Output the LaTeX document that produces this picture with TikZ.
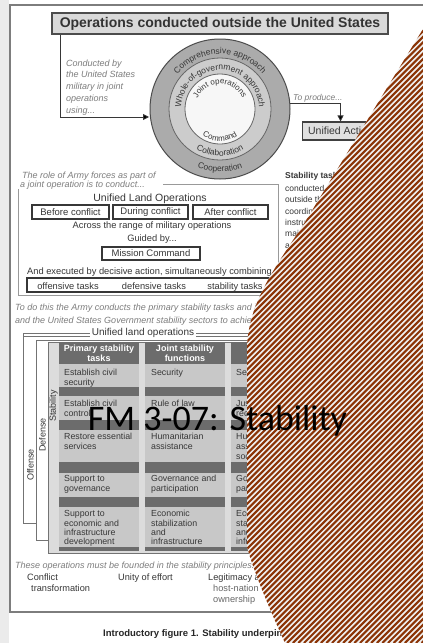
\documentclass[tikz,border=0pt]{standalone}
\usepackage{fontspec}
\setmainfont{Liberation Sans}
\newfontfamily\carlito{Carlito}
\usetikzlibrary{arrows.meta,decorations.text}
\definecolor{hbrown}{RGB}{139,52,6}
\definecolor{hwhite}{RGB}{240,240,240}
\definecolor{itgray}{RGB}{125,125,125}
\definecolor{txt}{RGB}{55,55,55}
\definecolor{darkbar}{RGB}{108,108,108}
\definecolor{cellbg}{RGB}{200,200,200}
\definecolor{panelbg}{RGB}{220,220,220}
\definecolor{framegray}{RGB}{125,125,125}
\begin{document}
\begin{tikzpicture}[x=1pt,y=1pt,
  itl/.style={inner sep=0pt, anchor=base west, text=itgray, font=\fontsize{9}{11}\selectfont\itshape},
  lbl/.style={inner sep=0pt, anchor=base west, text=txt, font=\fontsize{9}{11}\selectfont},
  cen/.style={inner sep=0pt, anchor=base, text=txt, font=\fontsize{9.3}{11}\selectfont},
  cbox/.style={draw=txt, line width=1.1pt, fill=white, minimum height=14pt, inner sep=0pt, text=txt, font=\fontsize{9.5}{11}\selectfont},
  celltxt/.style={inner sep=0pt, anchor=base west, text=txt, font=\fontsize{8.8}{10}\selectfont},
  hdr/.style={fill=darkbar, text=white, font=\fontsize{9}{10}\selectfont\bfseries, align=center, inner sep=0pt, minimum width=80pt, minimum height=22pt},
  conn/.style={draw=txt, line width=0.8pt, -{Triangle[length=6pt,width=6pt]}},
  vlab/.style={rotate=90, inner sep=0pt, text=txt, font=\fontsize{9}{10}\selectfont},
  bot/.style={inner sep=0pt, anchor=base west, text=txt, font=\fontsize{9.2}{11}\selectfont}]
\useasboundingbox (0,0) rectangle (423,-643);
\fill[white] (0,0) rectangle (423,-643);
\fill[black!8] (0,0) rectangle (8.5,-643);
% frame
\draw[framegray, line width=1.5pt] (10,-5) rectangle (440,-612);

% title
\node[draw=black!70, line width=1.2pt, fill=black!15, minimum width=336pt, minimum height=21pt, inner sep=0pt, font=\fontsize{14}{16}\selectfont\bfseries, text=black!80] (title) at (220,-23.5) {Operations conducted outside the United States};

% left text
\node[itl] (c1) at (66,-66) {Conducted by};
\node[itl] (c2) at (66,-77.5) {the United States};
\node[itl] (c3) at (66,-89.5) {military in joint};
\node[itl] (c4) at (66,-101.5) {operations};
\node[itl] (c5) at (66,-113) {using...};

% circles
\coordinate (C) at (220,-109);
\node[circle, draw=black!70, line width=1pt, fill=black!33, minimum size=140pt, inner sep=0pt] (ringA) at (C) {};
\node[circle, draw=black!60, line width=0.8pt, fill=black!20, minimum size=102pt, inner sep=0pt] (ringB) at (C) {};
\node[circle, draw=black!60, line width=0.8pt, fill=black!3, minimum size=70pt, inner sep=0pt] (ringC) at (C) {};
\path[decorate, decoration={text along path, text align=center, text color=txt, text={|\fontsize{8.5}{10}\selectfont|Comprehensive approach}}] (C) ++(190:55pt) arc[start angle=190, end angle=-10, radius=55pt];
\path[decorate, decoration={text along path, text align=center, text color=txt, text={|\fontsize{8.5}{10}\selectfont|Cooperation}}] (C) ++(-170:63pt) arc[start angle=-170, end angle=-10, radius=63pt];
\path[decorate, decoration={text along path, text align=center, text color=txt, text={|\fontsize{8.5}{10}\selectfont|Whole-of-government approach}}] (C) ++(200:39pt) arc[start angle=200, end angle=-20, radius=39pt];
\path[decorate, decoration={text along path, text align=center, text color=txt, text={|\fontsize{8.5}{10}\selectfont|Collaboration}}] (C) ++(-170:47pt) arc[start angle=-170, end angle=-10, radius=47pt];
\path[decorate, decoration={text along path, text align=center, text color=txt, text={|\fontsize{8}{10}\selectfont|Joint operations}}] (C) ++(200:25pt) arc[start angle=200, end angle=-20, radius=25pt];
\path[decorate, decoration={text along path, text align=center, text color=txt, text={|\fontsize{8}{10}\selectfont|Command}}] (C) ++(-170:32pt) arc[start angle=-170, end angle=-10, radius=32pt];

\coordinate (arrin) at (149,-117);
\draw[conn] ([xshift=9pt]title.south west) |- (arrin);

% to produce
\node[itl, font=\fontsize{8.5}{10}\selectfont\itshape] (prod) at (293,-100) {To produce...};
\coordinate (prodstart) at (289.7,-103);
\node[draw=black!75, line width=1.1pt, fill=black!12, minimum width=76pt, minimum height=18pt, inner sep=0pt, anchor=west, text=txt, font=\fontsize{10.5}{12}\selectfont] (ua) at (302,-131) {Unified Action};
\draw[conn] (prodstart) -| (ua.north);

% section 2
\node[itl] (r1) at (22,-178) {The role of Army forces as part of};
\node[itl] (r2) at (20,-187.5) {a joint operation is to conduct...};
\draw[black!40, line width=1pt] (18,-189) -- (18,-295) -- (278,-295) -- (278,-184) -- (163,-184);
\node[cen, font=\fontsize{10.5}{12}\selectfont] (ulo) at (150,-201.5) {Unified Land Operations};
\node[cbox, minimum width=77pt] (before) at (70.5,-212) {Before conflict};
\node[cbox, minimum width=75pt] (during) at (150.5,-212) {During conflict};
\node[cbox, minimum width=75pt] (after) at (230.5,-212) {After conflict};
\node[cen] (across) at (152,-228.5) {Across the range of military operations};
\node[cen] (guided) at (152,-241.5) {Guided by...};
\node[cbox, minimum width=98pt, minimum height=13pt] (mc) at (151,-253.5) {Mission Command};
\node[lbl, font=\fontsize{9.3}{11}\selectfont] (exec) at (27,-274) {And executed by decisive action, simultaneously combining...};
\draw[txt, line width=1.1pt] (27,-278) rectangle (272,-292);
\node[cen] (off) at (68,-289) {offensive tasks};
\node[cen] (def) at (154,-289) {defensive tasks};
\node[cen] (stb) at (235,-289) {stability tasks};

% right column (mostly hidden)
\node[lbl, font=\fontsize{8.5}{10}\selectfont\bfseries] (s1) at (285,-178) {Stability tasks are};
\node[lbl, font=\fontsize{8.5}{10}\selectfont] (s2) at (285,-191) {conducted as part of};
\node[lbl, font=\fontsize{8.5}{10}\selectfont] (s3) at (285,-202) {outside the United};
\node[lbl, font=\fontsize{8.5}{10}\selectfont] (s4) at (285,-214) {coordination with};
\node[lbl, font=\fontsize{8.5}{10}\selectfont] (s5) at (285,-225) {instruments of};
\node[lbl, font=\fontsize{8.5}{10}\selectfont] (s6) at (285,-236) {maintain or};
\node[lbl, font=\fontsize{8.5}{10}\selectfont] (s7) at (285,-248) {a safe and};

% section 3
\node[itl] (t1) at (15,-310.5) {To do this the Army conducts the primary stability tasks and joint stability functions};
\node[itl] (t2) at (15,-323) {and the United States Government stability sectors to achieve};

% panels
\draw[black!55, line width=0.8pt, fill=white] (23,-336) rectangle (340,-523);
\draw[black!55, line width=0.8pt] (23,-333) -- (340,-333);
\draw[black!55, line width=0.8pt] (23,-333) -- (23,-336);
\draw[black!55, line width=0.8pt, fill=white] (36,-340) rectangle (340,-540);
\draw[black!55, line width=0.8pt, fill=panelbg] (48,-342) rectangle (340,-553);
\node[fill=white, inner sep=1.5pt, text=txt, font=\fontsize{10}{11}\selectfont] (ulabel) at (143,-333) {Unified land operations};
\node[vlab] (vstab) at (53.5,-406) {Stability};
\node[vlab] (vdef) at (42.5,-435) {Defense};
\node[vlab] (voff) at (30.5,-465) {Offense};

% columns
\foreach \x in {59,145,231}{
  \fill[cellbg] (\x,-364) rectangle ++(80,-187);
  \foreach \ya/\yb in {387/396,420/430,462/473,497/507,547/551}
    \fill[darkbar] (\x,-\ya) rectangle ++(80,-\yb+\ya);
}
\node[hdr] (h1) at (99,-353) {Primary stability\\tasks};
\node[hdr] (h2) at (185,-353) {Joint stability\\functions};
\node[hdr] (h3) at (271,-353) {Stability\\sectors};

% column 1
\node[celltxt] (a11) at (64,-375) {Establish civil};
\node[celltxt] (a12) at (64,-385) {security};
\node[celltxt] (a21) at (64,-406.5) {Establish civil};
\node[celltxt] (a22) at (64,-416.5) {control};
\node[celltxt] (a31) at (64,-439.5) {Restore essential};
\node[celltxt] (a32) at (64,-449.5) {services};
\node[celltxt] (a41) at (64,-481.5) {Support to};
\node[celltxt] (a42) at (64,-491.5) {governance};
\node[celltxt] (a51) at (64,-516.5) {Support to};
\node[celltxt] (a52) at (64,-526) {economic and};
\node[celltxt] (a53) at (64,-535) {infrastructure};
\node[celltxt] (a54) at (64,-544.3) {development};
% column 2
\node[celltxt] (b11) at (151,-375) {Security};
\node[celltxt] (b21) at (151,-406.5) {Rule of law};
\node[celltxt] (b31) at (151,-439.5) {Humanitarian};
\node[celltxt] (b32) at (151,-449.5) {assistance};
\node[celltxt] (b41) at (151,-481.5) {Governance and};
\node[celltxt] (b42) at (151,-491.5) {participation};
\node[celltxt] (b51) at (151,-516.5) {Economic};
\node[celltxt] (b52) at (151,-526) {stabilization};
\node[celltxt] (b53) at (151,-535) {and};
\node[celltxt] (b54) at (151,-544.3) {infrastructure};
% column 3
\node[celltxt] (c11) at (236,-375) {Security};
\node[celltxt] (c21) at (236,-406.5) {Justice and};
\node[celltxt] (c22) at (236,-416.5) {reconciliation};
\node[celltxt] (c31) at (236,-439.5) {Humanitarian};
\node[celltxt] (c32) at (236,-449.5) {assistance and};
\node[celltxt] (c33) at (236,-459.5) {social well-being};
\node[celltxt] (c41) at (236,-481.5) {Governance and};
\node[celltxt] (c42) at (236,-491.5) {participation};
\node[celltxt] (c51) at (236,-516.5) {Economic};
\node[celltxt] (c52) at (236,-526) {stabilization};
\node[celltxt] (c53) at (236,-535) {and};
\node[celltxt] (c54) at (236,-544.3) {infrastructure};

% bottom
\node[itl] (p0) at (15,-568) {These operations must be founded in the stability principles...};
\node[bot] (p1) at (27,-580) {Conflict};
\node[bot] (p2) at (31,-591.6) {transformation};
\node[bot] (p3) at (118,-580) {Unity of effort};
\node[bot] (p4) at (208,-580) {Legitimacy and};
\node[bot, text=black!60] (p5) at (213,-591.6) {host-nation};
\node[bot, text=black!60] (p6) at (213,-602) {ownership};
\node[inner sep=0pt, anchor=base west, text=black!85, font=\fontsize{9.5}{11}\selectfont\bfseries] (cap) at (103,-636) {Introductory figure 1. Stability underpinnings};

% hatched overlay
\begin{scope}
\clip (423,-29) -- (305,-222) .. controls (275,-268) and (250,-300) .. (247,-345) -- (247,-547) .. controls (255,-575) and (270,-610) .. (285,-643) -- (423,-643) -- cycle;
\fill[hwhite] (230,0) rectangle (423,-643);
\foreach \c in {-200,-194.4,...,430} \draw[hbrown, line width=2.1pt] (\c,-643) -- ++(660,660);
\end{scope}

\node[inner sep=0pt, anchor=base, text=black, font=\carlito\fontsize{36}{40}\selectfont] (bigtitle) at (217.5,-430) {FM 3-07: Stability};
\end{tikzpicture}
\end{document}
